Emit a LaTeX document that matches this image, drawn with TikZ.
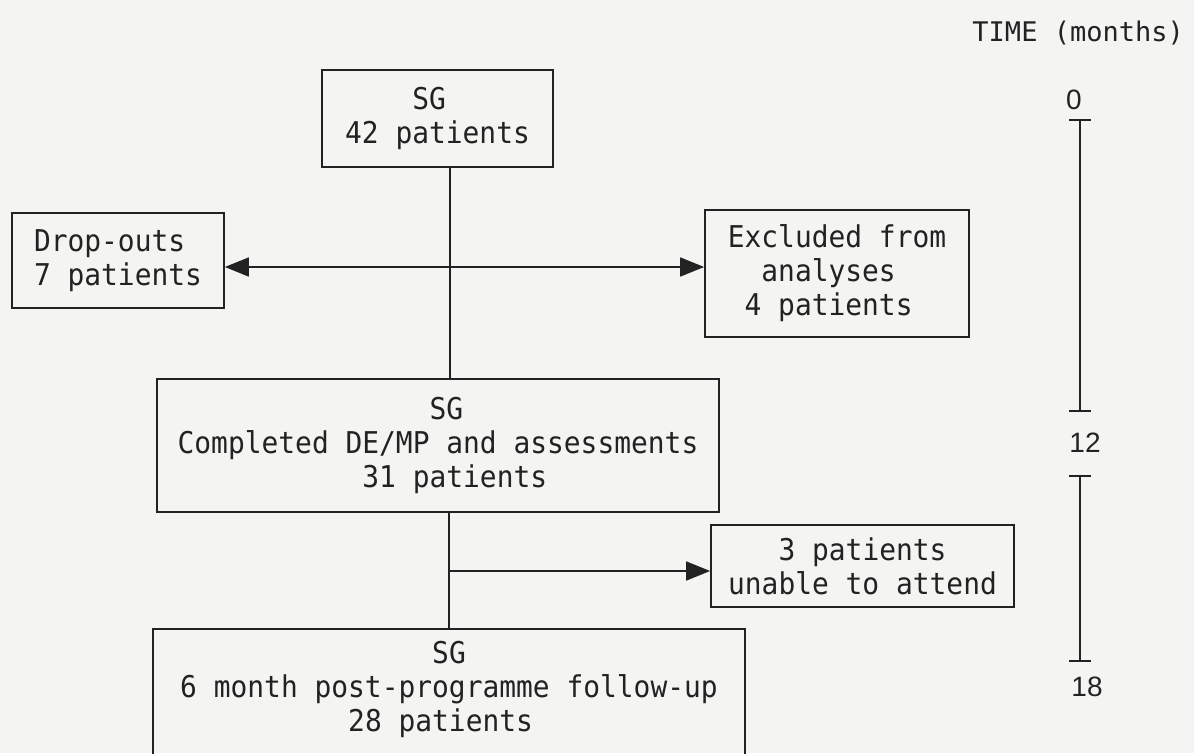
\documentclass[tikz,border=0pt]{standalone}
\usepackage{fontspec}
\usetikzlibrary{arrows.meta}
\newfontfamily\boxfont[FakeStretch=0.93]{DejaVu Sans Mono}
\newfontfamily\titlefont{DejaVu Sans Mono}
\newfontfamily\numfont{Liberation Sans}
\definecolor{inkc}{HTML}{222222}
\definecolor{paper}{HTML}{F4F4F2}
% indent by a number of monospace character cells
\newcommand\ind[1]{\hspace*{#1\fontcharwd\font`\0}}

\begin{document}
\begin{tikzpicture}[x=1pt,y=-1pt,line join=miter,
  box/.style={draw=inkc,line width=1.7pt,inner sep=0pt,align=left,text=inkc,
    font=\boxfont\fontsize{30}{34}\selectfont},
  link/.style={draw=inkc,line width=1.6pt},
  arr/.style={link,-{Triangle[length=24pt,width=19pt]}},
  tick/.style={link,{Bar[width=22pt,line width=1.8pt]}-{Bar[width=22pt,line width=1.8pt]}},
  num/.style={text=inkc,font=\numfont\fontsize{28}{30}\selectfont,inner sep=0pt},
  ]
\fill[paper] (0,0) rectangle (1194,753);
\clip (0,0) rectangle (1194,753);

% flow boxes
\node[box,minimum width=231pt,minimum height=97pt] (sg) at (437.5,118.5)
  {\ind{4}SG\\42 patients};
\node[box,minimum width=212pt,minimum height=95pt] (drop) at (118,260.5)
  {Drop-outs\\7 patients};
\node[box,minimum width=264pt,minimum height=127pt] (excl) at (837,273.5)
  {Excluded from\\\ind{2}analyses\\\ind{1}4 patients};
\node[box,minimum width=562pt,minimum height=133pt] (done) at (438,445.5)
  {\ind{15}SG\\Completed DE/MP and assessments\\\ind{11}31 patients};
\node[box,minimum width=303pt,minimum height=82pt] (absent) at (862.5,566)
  {\ind{3}3 patients\\unable to attend};
\node[box,draw=none,minimum width=590pt,minimum height=118pt] (fu) at (449,689)
  {\ind{15}SG\\6 month post-programme follow-up\\\ind{10}28 patients};
\draw[draw=inkc,line width=1.7pt] ([yshift=-40pt]fu.south west) -- (fu.north west)
  -- (fu.north east) -- ([yshift=-40pt]fu.south east);

% connectors
\coordinate (split1) at (450,267);
\coordinate (split2) at (449,571);
\draw[link] (sg.south -| split1) -- (done.north -| split1);
\draw[arr] (split1) -- (drop.east |- split1);
\draw[arr] (split1) -- (excl.west |- split1);
\draw[link] (done.south -| split2) -- (fu.north -| split2);
\draw[arr] (split2) -- (absent.west |- split2);

% time scale
\node[anchor=east,text=inkc,inner sep=0pt,font=\titlefont\fontsize{27}{30}\selectfont]
  (ttl) at (1184,33) {TIME (months)};
\coordinate (t0) at (1080,119);
\coordinate (t12a) at (1080,412);
\coordinate (t12b) at (1080,475);
\coordinate (t18) at (1080,662);
\draw[tick] (t0) -- (t12a);
\draw[tick] (t12b) -- (t18);
\node[num] (m0) at (1074,100) {0};
\node[num] (m12) at (1085,443) {12};
\node[num] (m18) at (1087,687) {18};
\end{tikzpicture}
\end{document}
